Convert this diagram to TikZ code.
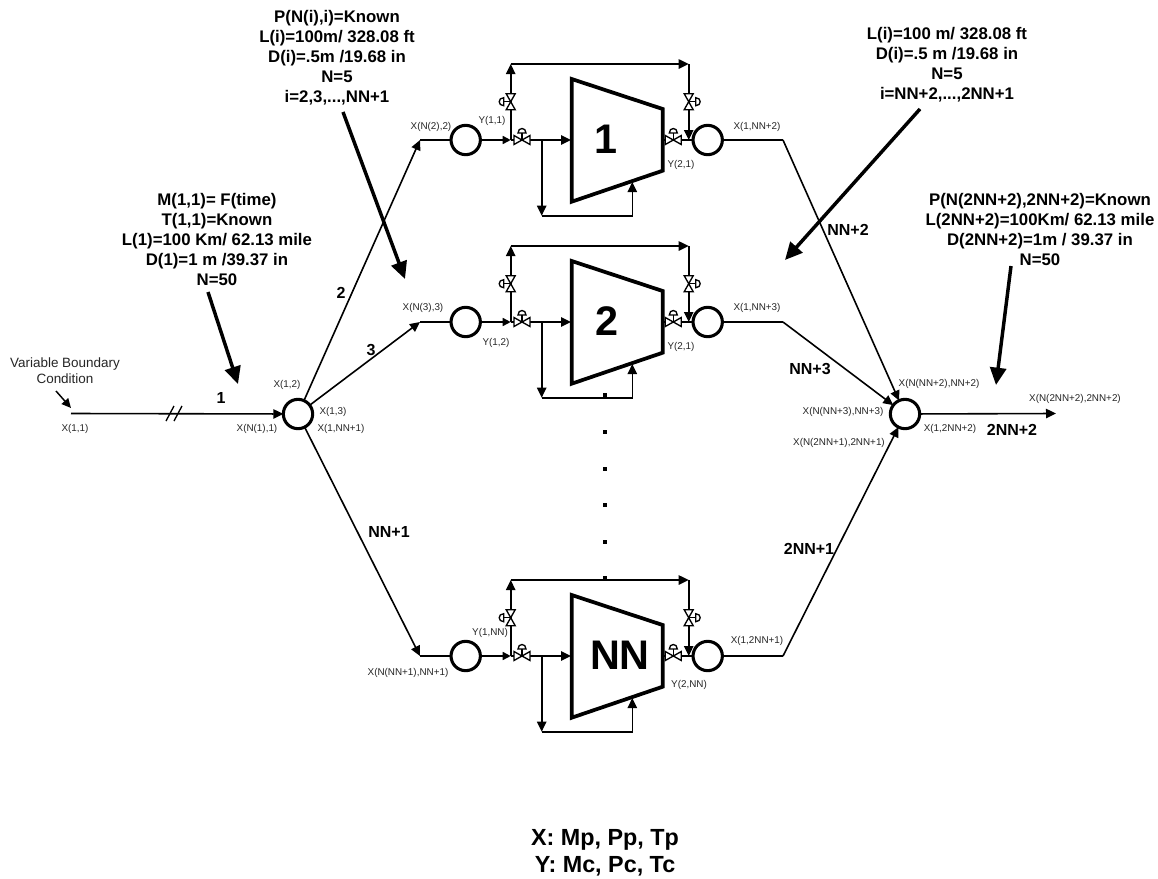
\documentclass[tikz,border=0pt]{standalone}
\usepackage{fontspec}
\setmainfont{Liberation Sans}
\usetikzlibrary{arrows.meta}
\tikzset{
  x=0.75pt,y=-0.75pt,
  pipe/.style={line width=1.2pt,black},
  flow/.style={pipe,-{Triangle[length=7.5pt,width=7pt]}},
  smallflow/.style={pipe,-{Triangle[length=6pt,width=6pt]}},
  note/.style={line width=2.6pt,-{Triangle[length=13pt,width=12pt]}},
  junction/.style={circle,draw,line width=2.3pt,minimum size=22pt,inner sep=0pt,outer sep=0pt,fill=white},
  machine/.style={draw,line width=2.8pt,line join=miter,fill=white},
  tiny label/.style={font=\fontsize{7.4}{8}\selectfont,inner sep=0pt,text=black!85},
  branch/.style={font=\fontsize{12}{14}\selectfont\bfseries,inner sep=0pt},
  block/.style={font=\fontsize{12.6}{15}\selectfont\bfseries,align=center,inner sep=0pt},
  unit title/.style={font=\fontsize{31}{33}\selectfont\bfseries,inner sep=0pt},
  dotmark/.style={draw=none,fill=black,minimum size=3pt,inner sep=0pt},
  valve/.pic={
    \draw[line width=1pt,fill=white] (-8,-4.5)--(8,4.5)--(8,-4.5)--(-8,4.5)--cycle;
    \draw[line width=1pt] (0,0)--(0,-7);
    \draw[line width=1pt,fill=white] (-4,-7) .. controls (-4,-13) and (4,-13) .. (4,-7) -- cycle;
  }
}
\newcommand\compunit[4]{%
 \begin{scope}[yshift=#2*-0.75pt]
  \node[junction] (#1a) at (465.7,140) {};
  \node[junction] (#1b) at (707.7,140) {};
  \coordinate (#1in) at (420,140);
  \coordinate (#1out) at (783,140);
  \coordinate (#1t) at (510.7,140);
  \coordinate (#1tt) at (510.7,64);
  \coordinate (#1u) at (688.7,64);
  \coordinate (#1ub) at (688.7,140);
  \coordinate (#1r) at (541.7,140);
  \coordinate (#1rb) at (541.7,215.7);
  \coordinate (#1rc) at (632.3,215.7);
  \coordinate (#1rd) at (632.3,182);
  \coordinate (#1ce) at (571,140);
  \draw[machine] (571.7,79)--(662.7,109)--(662.7,170.7)--(571.7,201.7)--cycle;
  \node[unit title] (#1name) at (#4,139) {#3};
  \draw[pipe] (#1in)--(#1a);
  \draw[smallflow] (#1a)--(#1t);
  \draw[flow] (#1t)--(#1tt);
  \draw[flow] (#1tt)--(#1u);
  \draw[flow] (#1u)--(#1ub);
  \draw[flow] (#1t)--(#1ce);
  \draw[flow] (#1r)--(#1rb);
  \draw[flow] (#1rb)--(#1rc)--(#1rd);
  \draw[pipe] (662.7,140)--(#1b);
  \draw[pipe] (#1b)--(#1out);
  \pic at (522,140) {valve};
  \pic at (673.3,140) {valve};
  \pic[rotate=90] at (510.7,101.7) {valve};
  \pic[rotate=-90] at (688.7,101.7) {valve};
 \end{scope}}
\begin{document}
\begin{tikzpicture}
\useasboundingbox (0,0) rectangle (1158,879);
\fill[white] (0,0) rectangle (1158,879);
\compunit{A}{0}{1}{606}
\compunit{B}{182}{2}{607}
\compunit{C}{516}{NN}{620}
\node[junction] (L) at (298,414) {};
\node[junction] (R) at (905,414) {};
\coordinate (src) at (71,413.5);
\coordinate (snk) at (1056,413.5);
\draw[flow] (src)--(L);
\draw[flow] (R)--(snk);
\draw[flow] (L)--(Ain);
\draw[flow] (L)--(Bin);
\draw[flow] (L)--(Cin);
\draw[flow] (Aout)--(R);
\draw[flow] (Bout)--(R);
\draw[flow] (Cout)--(R);
\draw[pipe,line width=1pt] (166,421)--(174,406) (174,421)--(182,406);
\coordinate (vb1) at (56,391); \coordinate (vb2) at (71,408);
\draw[line width=1.1pt,-{Triangle[length=7pt,width=6.5pt]}] (vb1)--(vb2);
\coordinate (n1a) at (208,292); \coordinate (n1b) at (238,384);
\coordinate (n2a) at (343,112); \coordinate (n2b) at (405,279);
\coordinate (n3a) at (920,109); \coordinate (n3b) at (785,260);
\coordinate (n4a) at (1011,266); \coordinate (n4b) at (996,385);
\draw[note] (n1a)--(n1b);
\draw[note] (n2a)--(n2b);
\draw[note] (n3a)--(n3b);
\draw[note] (n4a)--(n4b);
\foreach \i/\yy in {1/395,2/432,3/469,4/504.5,5/542,6/578}
  \node[dotmark] (dot\i) at (605,\yy) {};
\node[block] (t1) at (217,239) {M(1,1)= F(time)\\T(1,1)=Known\\L(1)=100 Km/ 62.13 mile\\D(1)=1 m /39.37 in\\N=50};
\node[block] (t2) at (337,57.5) {P(N(i),i)=Known\\L(i)=100m/ 328.08 ft\\D(i)=.5m /19.68 in\\N=5\\i=2,3,...,NN+1};
\node[block] (t3) at (947,64.5) {L(i)=100 m/ 328.08 ft\\D(i)=.5 m /19.68 in\\N=5\\i=NN+2,...,2NN+1};
\node[block] (t4) at (1040,229) {P(N(2NN+2),2NN+2)=Known\\L(2NN+2)=100Km/ 62.13 mile\\D(2NN+2)=1m / 39.37 in\\N=50};
\node[block,font=\fontsize{17.5}{20}\selectfont\bfseries] (t5) at (605,853) {X: Mp, Pp, Tp\\Y: Mc, Pc, Tc};
\node[tiny label,align=center,font=\fontsize{10.1}{12}\selectfont] (vb) at (65,371) {Variable Boundary\\Condition};
\foreach \n/\x/\y/\s in {
 l1/75/429/{X(1,1)}, l2/257/429/{X(N(1),1)}, l3/287/385/{X(1,2)}, l4/333/412/{X(1,3)}, l5/341/429/{X(1,NN+1)},
 l6/431/127/{X(N(2),2)}, l7/423/308/{X(N(3),3)}, l8/408/673/{X(N(NN+1),NN+1)},
 l9/492/121/{Y(1,1)}, l10/496/343/{Y(1,2)}, l11/490/633/{Y(1,NN)},
 l12/681/165/{Y(2,1)}, l13/681/347/{Y(2,1)}, l14/689/685/{Y(2,NN)},
 l15/757/127/{X(1,NN+2)}, l16/757/308/{X(1,NN+3)}, l17/757/641/{X(1,2NN+1)},
 l18/939/384/{X(N(NN+2),NN+2)}, l19/843/412/{X(N(NN+3),NN+3)}, l20/839/443/{X(N(2NN+1),2NN+1)},
 l21/950/429/{X(1,2NN+2)}, l22/1075/399/{X(N(2NN+2),2NN+2)}}
  \node[tiny label] (\n) at (\x,\y) {\s};
\foreach \n/\x/\y/\s in {
 b1/221/398/{1}, b2/341/293/{2}, b3/371/350/{3}, b4/389/532/{NN+1},
 b5/848/230/{NN+2}, b6/810/369/{NN+3}, b7/809/549/{2NN+1}, b8/1012/430/{2NN+2}}
  \node[branch] (\n) at (\x,\y) {\s};
\end{tikzpicture}
\end{document}
